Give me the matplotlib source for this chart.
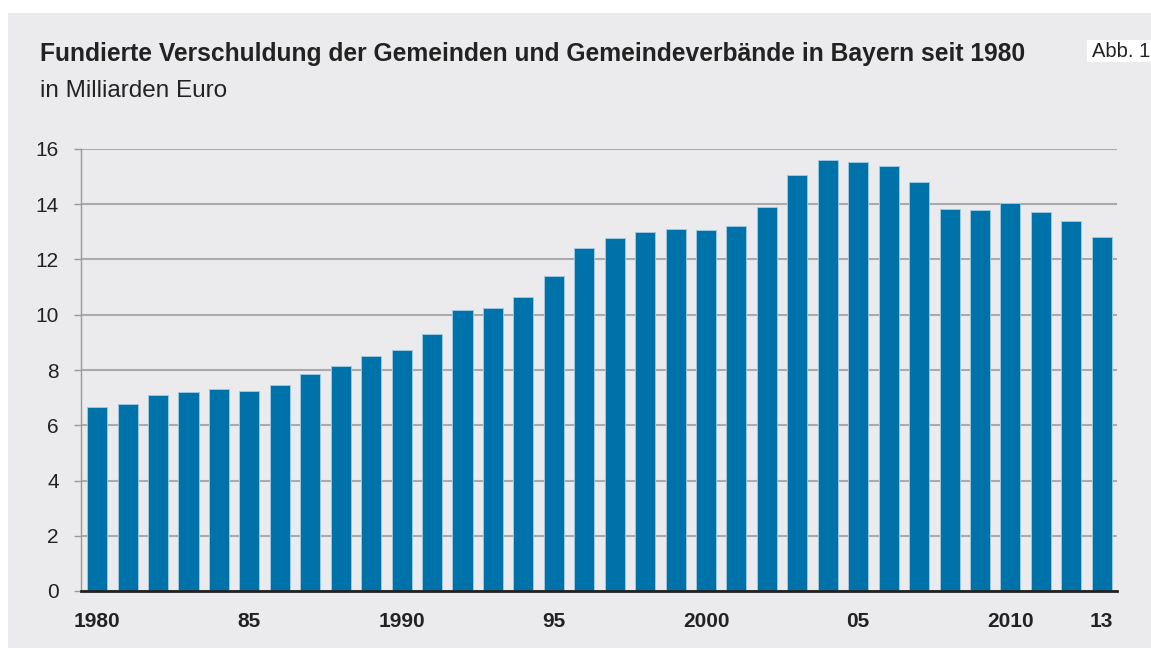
import matplotlib.pyplot as plt
from matplotlib.patches import Rectangle

plt.rcParams['font.family'] = ['Liberation Sans', 'DejaVu Sans']

# Fundierte Verschuldung, Mrd. Euro, 1980-2013
years = list(range(1980, 2014))
debt = [6.66, 6.77, 7.08, 7.21, 7.31, 7.24, 7.44, 7.85, 8.13, 8.49,
        8.74, 9.32, 10.16, 10.23, 10.66, 11.39, 12.40, 12.78, 12.98, 13.12,
        13.05, 13.20, 13.89, 15.05, 15.60, 15.54, 15.40, 14.79, 13.83, 13.78,
        14.03, 13.72, 13.38, 12.80]
tick_years = [1980, 1985, 1990, 1995, 2000, 2005, 2010, 2013]
tick_labels = ['1980', '85', '1990', '95', '2000', '05', '2010', '13']
yticks = [0, 2, 4, 6, 8, 10, 12, 14, 16]

bg = '#ebebed'
blue = '#0072aa'

fig = plt.figure(figsize=(11.51, 6.48), dpi=100)
fig.patch.set_facecolor('white')
# grey panel behind everything
fig.add_artist(Rectangle((8 / 1151, 0), 1.01 - 8 / 1151, 1 - 13 / 648,
                         transform=fig.transFigure, facecolor=bg,
                         edgecolor='none', zorder=-10))
# white label box for "Abb. 1"
fig.add_artist(Rectangle((1087 / 1151, 1 - 62 / 648), 0.1, 22 / 648,
                         transform=fig.transFigure, facecolor='white',
                         edgecolor='none', zorder=-5))

ax = fig.add_axes([81 / 1151, 1 - 591 / 648, 1036 / 1151, 442 / 648])
ax.set_facecolor(bg)

x = [y - 1980 for y in years]
ax.bar(x, debt, width=0.66, color=blue, edgecolor='#9cc8e0', linewidth=0.7, zorder=3)

ax.set_xlim(-0.53, 33.5)
ax.set_ylim(0, 16)
ax.set_yticks(yticks)
ax.set_yticklabels([str(v) for v in yticks], fontsize=15, color='#222222')
ax.yaxis.grid(True, color='#aaaaaa', linewidth=1.5, zorder=0)
ax.set_axisbelow(True)
ax.tick_params(axis='y', length=5, width=1, color='#999999', pad=11)

ax.set_xticks([t - 1980 for t in tick_years])
ax.set_xticklabels(tick_labels, fontsize=15, fontweight='bold', color='#222222')
ax.tick_params(axis='x', length=0, pad=15)

for s in ['top', 'right']:
    ax.spines[s].set_visible(False)
ax.spines['left'].set_color('#999999')
ax.spines['left'].set_linewidth(1)
ax.spines['bottom'].set_color('#222222')
ax.spines['bottom'].set_linewidth(2)
ax.spines['bottom'].set_zorder(5)

fig.text(40 / 1151, 1 - 61 / 648,
         'Fundierte Verschuldung der Gemeinden und Gemeindeverbände in Bayern seit 1980',
         fontsize=17.7, fontweight='bold', color='#222222', ha='left', va='baseline')
fig.text(40 / 1151, 1 - 97 / 648, 'in Milliarden Euro',
         fontsize=17.5, color='#222222', ha='left', va='baseline')
fig.text(1092 / 1151, 1 - 57 / 648, 'Abb. 1', fontsize=14.5, color='#222222',
         ha='left', va='baseline')

fig.savefig('out.png', dpi=100)
